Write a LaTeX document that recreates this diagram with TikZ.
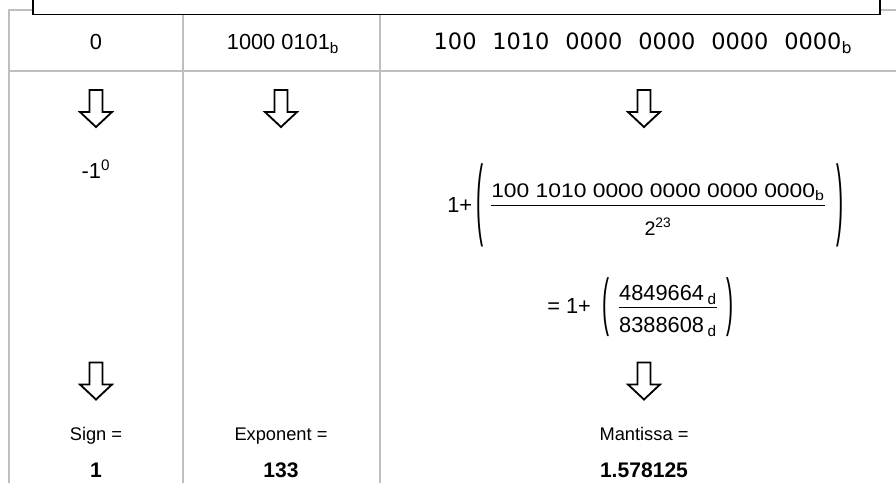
\documentclass[tikz,border=0pt]{standalone}
\usepackage{fontspec}
\setmainfont{Liberation Sans}
\newfontfamily\binfont{DejaVu Sans}
\newfontfamily\widefont{Liberation Sans}[FakeStretch=1.16]
\usetikzlibrary{positioning}

\newcommand{\gsp}{\hspace{0.7em}}

\begin{document}
\begin{tikzpicture}[x=0.025cm,y=-0.025cm,
  tableline/.style={draw=black!25,line width=1.2pt},
  txt/.style={font=\fontsize{15.5}{18}\selectfont,inner sep=0pt,anchor=base},
  lbl/.style={font=\fontsize{13}{16}\selectfont,inner sep=0pt,anchor=base},
  val/.style={font=\fontsize{15}{18}\selectfont\bfseries,inner sep=0pt,anchor=base},
  paren/.style={font=\fontsize{15}{18}\selectfont,inner sep=0pt},
  fracline/.style={line width=0.7pt},
  dnarrow/.pic={\draw[line width=1.3pt,fill=white,line join=miter] (-6.5,-18.5) -- (6.5,-18.5) -- (6.5,3.5) -- (16,3.5) -- (0,18.5) -- (-16,3.5) -- (-6.5,3.5) -- cycle;}]
\clip (0,0) rectangle (896,483);
\draw[tableline] (9,483) -- (9,10) -- (896,10);
\draw[tableline] (9,71) -- (896,71);
\draw[tableline] (183,10) -- (183,483);
\draw[tableline] (380,10) -- (380,483);
\draw[line width=1.4pt,fill=white] (33,-20) rectangle (880,14.5);

% bit fields
\node[txt] (sbit) at (96,49.5) {0};
\node[txt] (ebits) at (283,49.5) {1000 0101\textsubscript{b}};
\node[txt,font=\binfont\fontsize{16}{19}\selectfont] (mbits) at (643,49.5) {100\gsp 1010\gsp 0000\gsp 0000\gsp 0000\gsp 0000\textsubscript{b}};

\pic (sarr) at (96,108.5) {dnarrow};
\pic (earr) at (281,108.5) {dnarrow};
\pic (marr) at (644,108.5) {dnarrow};

\node[txt] (spow) at (96,178) {-1\textsuperscript{0}};

% mantissa
\node[txt,anchor=base west] (onep) at (447,212) {1+};
\node[paren] (lp1) at (480,205) {\scalebox{1}[4.24]{(}};
\node[txt,font=\widefont\fontsize{14}{17}\selectfont] (num1) at (658,197) {100 1010 0000 0000 0000 0000\textsubscript{b}};
\node[txt,font=\fontsize{14}{17}\selectfont] (den1) at (658,235) {2\textsuperscript{23}};
\draw[fracline] ([yshift=-5.7pt]num1.base west) -- ([yshift=-5.7pt]num1.base east);
\node[paren] (rp1) at (840,205) {\scalebox{1}[4.24]{)}};

\node[txt,anchor=base west] (eqp) at (547,313) {= 1+};
\node[paren] (lp2) at (606,307.5) {\scalebox{1}[3]{(}};
\node[txt] (num2) at (668,300) {4849664\,\textsubscript{d}};
\node[txt] (den2) at (668,332) {8388608\,\textsubscript{d}};
\draw[fracline] ([yshift=-5pt]num2.base west) -- ([yshift=-5pt]num2.base east);
\node[paren] (rp2) at (730,307.5) {\scalebox{1}[3]{)}};

\pic (sarr2) at (96,381) {dnarrow};
\pic (marr2) at (644,381) {dnarrow};

% results
\node[lbl] (slbl) at (96,440) {Sign =};
\node[lbl] (elbl) at (281,440) {Exponent =};
\node[lbl] (mlbl) at (644,440) {Mantissa =};
\node[val] (sval) at (96,477.5) {1};
\node[val] (eval) at (281,477.5) {133};
\node[val] (mval) at (644,477.5) {1.578125};
\end{tikzpicture}
\end{document}
